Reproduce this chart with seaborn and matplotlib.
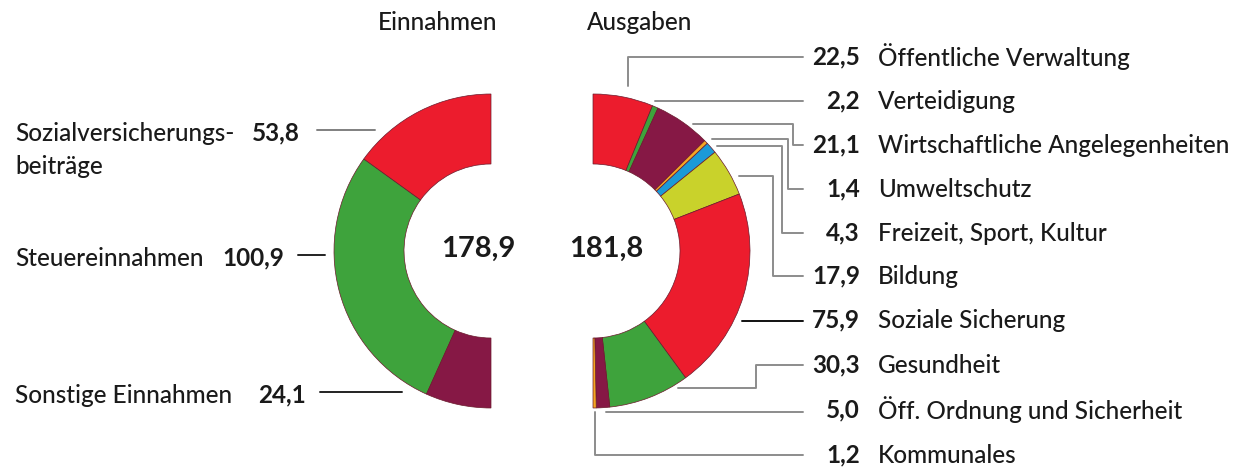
import matplotlib
matplotlib.use("Agg")
import matplotlib.pyplot as plt
import seaborn as sns

# Daten (Mrd. Euro)
einnahmen_labels = ["Sozialversicherungs-\nbeiträge", "Steuereinnahmen", "Sonstige Einnahmen"]
einnahmen_werte = [53.8, 100.9, 24.1]
einnahmen_summe = "178,9"

ausgaben_labels = ["Öffentliche Verwaltung", "Verteidigung", "Wirtschaftliche Angelegenheiten",
                   "Umweltschutz", "Freizeit, Sport, Kultur", "Bildung", "Soziale Sicherung",
                   "Gesundheit", "Öff. Ordnung und Sicherheit", "Kommunales"]
ausgaben_werte = [22.5, 2.2, 21.1, 1.4, 4.3, 17.9, 75.9, 30.3, 5.0, 1.2]
ausgaben_summe = "181,8"

RED, GREEN, PURPLE = "#EC1C2D", "#3EA33C", "#861845"
ORANGE, BLUE, LIME = "#F5A623", "#1B9AD7", "#C9D22B"
einnahmen_farben = [RED, GREEN, PURPLE]
ausgaben_farben = [RED, GREEN, PURPLE, ORANGE, BLUE, LIME, RED, GREEN, PURPLE, ORANGE]

sns.set_theme(style="white")
plt.rcParams["font.family"] = ["Lato", "DejaVu Sans"]

W, H = 1235, 469
fig = plt.figure(figsize=(W / 100, H / 100), dpi=100)
ax = fig.add_axes([0, 0, 1, 1])


def fmt(v):
    return f"{v:.1f}".replace(".", ",")


def py(y):
    # Pixel von oben -> Datenkoordinate von unten
    return H - y


R, RING = 157, 70
edge = dict(width=RING, edgecolor="#6a1a2c", linewidth=0.5)

# linke Hälfte: Einnahmen
tot_e = sum(einnahmen_werte)
ax.pie([v / (2 * tot_e) for v in einnahmen_werte], colors=einnahmen_farben, radius=R,
       center=(491, py(251)), startangle=90, counterclock=True, normalize=False,
       wedgeprops=edge)

# rechte Hälfte: Ausgaben
tot_a = sum(ausgaben_werte)
ax.pie([v / (2 * tot_a) for v in ausgaben_werte], colors=ausgaben_farben, radius=R,
       center=(593, py(251)), startangle=90, counterclock=False, normalize=False,
       wedgeprops=edge)

ax.set_xlim(0, W)
ax.set_ylim(0, H)
ax.set_aspect("auto")
ax.axis("off")

fs = 17.5
txt = dict(fontsize=fs, color="#1a1a1a", fontweight="medium")
num = dict(fontsize=fs, color="#1a1a1a", fontweight="bold")
ax.text(438, py(22), "Einnahmen", ha="center", va="center", **txt)
ax.text(640, py(22), "Ausgaben", ha="center", va="center", **txt)
ax.text(478, py(249), einnahmen_summe, ha="center", va="center", fontsize=21,
        fontweight="bold", color="#1a1a1a")
ax.text(606, py(249), ausgaben_summe, ha="center", va="center", fontsize=21,
        fontweight="bold", color="#1a1a1a")

# Beschriftung links
links_y = [133, 258, 395]
links_num_x = [300, 284, 306]
links_linie = [((317, 375), "#808080"), ((298, 325), "#222222"), ((320, 402), "#222222")]
for lab, val, y, nx, (lx, lc) in zip(einnahmen_labels, einnahmen_werte, links_y,
                                      links_num_x, links_linie):
    zeilen = lab.split("\n")
    ax.text(15, py(y), zeilen[0], ha="left", va="center", **txt)
    if len(zeilen) > 1:
        ax.text(15, py(y + 33), zeilen[1], ha="left", va="center", **txt)
    ax.text(nx, py(y), fmt(val), ha="right", va="center", **num)
    ax.plot(lx, [py(y - 3), py(y - 3)], color=lc, lw=1.4)

# Beschriftung rechts
rechts_y = [57, 101, 145, 189, 233, 276, 320, 365, 410, 455]
for lab, val, y in zip(ausgaben_labels, ausgaben_werte, rechts_y):
    ax.text(860, py(y), fmt(val), ha="right", va="center", **num)
    ax.text(878, py(y), lab, ha="left", va="center", **txt)

# Führungslinien rechts (Pixelpfade)
pfade = [
    ([628, 628, 803], [86, 57, 57]),
    ([655, 803], [101, 101]),
    ([693, 793, 793, 803], [124, 124, 145, 145]),
    ([712, 788, 788, 803], [139, 139, 189, 189]),
    ([717, 782, 782, 803], [146, 146, 233, 233]),
    ([739, 773, 773, 803], [176, 176, 276, 276]),
    ([678, 756, 756, 803], [388, 388, 365, 365]),
    ([606, 803], [412, 412]),
    ([595, 595, 803], [412, 455, 455]),
]
for xs, ys in pfade:
    ax.plot(xs, [py(y) for y in ys], color="#8c8c8c", lw=1.4)
ax.plot([742, 803], [py(321), py(321)], color="#111111", lw=1.4)

fig.savefig("out.png", dpi=100)
